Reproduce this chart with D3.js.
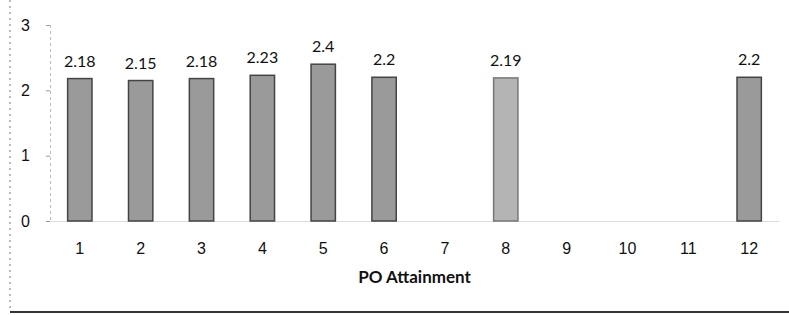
<!DOCTYPE html>
<html>
<head>
<meta charset="utf-8">
<script src="https://cdn.jsdelivr.net/npm/d3@7"></script>
<style>
  body { margin: 0; background: #fff; }
  svg { font-family: Lato, "Open Sans", sans-serif; }
</style>
</head>
<body>
<div id="vis"></div>
<script>
// frame and margins
const FRAME_WIDTH = 789;
const FRAME_HEIGHT = 315;
const MARGINS = {left: 50, right: 10, top: 25, bottom: 94};

// data
const CATEGORIES = ["1", "2", "3", "4", "5", "6", "7", "8", "9", "10", "11", "12"];
const VALUES = [2.18, 2.15, 2.18, 2.23, 2.4, 2.2, null, 2.19, null, null, null, 2.2];
const Y_TICKS = [0, 1, 2, 3];
const X_TITLE = "PO Attainment";

const DATA = CATEGORIES.map((c, i) => ({cat: c, value: VALUES[i]}));

const VIS_WIDTH = FRAME_WIDTH - MARGINS.left - MARGINS.right;
const VIS_HEIGHT = FRAME_HEIGHT - MARGINS.top - MARGINS.bottom;

const FRAME = d3.select("#vis")
  .append("svg")
    .attr("width", FRAME_WIDTH)
    .attr("height", FRAME_HEIGHT);

// scanned-page border bits
FRAME.append("line")
  .attr("x1", 10).attr("x2", 10).attr("y1", 0).attr("y2", 312)
  .attr("stroke", "#777").attr("stroke-dasharray", "2,4");
FRAME.append("line")
  .attr("x1", 10).attr("x2", 789).attr("y1", 312).attr("y2", 312)
  .attr("stroke", "#333").attr("stroke-width", 2);

// scales
const X = d3.scaleBand()
  .domain(CATEGORIES)
  .range([0, VIS_WIDTH])
  .paddingInner(0.6)
  .paddingOuter(0.29);

const Y = d3.scaleLinear()
  .domain([0, 3])
  .range([VIS_HEIGHT, 0]);

const G = FRAME.append("g")
  .attr("transform", "translate(" + MARGINS.left + "," + MARGINS.top + ")");

// y axis
const yAxis = G.append("g")
  .call(d3.axisLeft(Y).tickValues(Y_TICKS).tickFormat(d3.format("d"))
    .tickSize(4).tickPadding(16));
yAxis.select(".domain").attr("stroke", "#bbb").attr("stroke-dasharray", "3,3");
yAxis.selectAll(".tick line").attr("stroke", "#999");
yAxis.selectAll("text").attr("font-size", 16).attr("fill", "#111");

// x axis
const xAxis = G.append("g")
  .attr("transform", "translate(0," + VIS_HEIGHT + ")")
  .call(d3.axisBottom(X).tickSize(0).tickPadding(22));
xAxis.select(".domain").attr("stroke", "#ddd");
xAxis.selectAll("text").attr("font-size", 16).attr("fill", "#111");

// bars
const bars = DATA.filter(d => d.value !== null);

G.selectAll(".bar")
  .data(bars)
  .enter()
  .append("rect")
    .attr("class", "bar")
    .attr("x", d => X(d.cat))
    .attr("y", d => Y(d.value))
    .attr("width", X.bandwidth())
    .attr("height", d => VIS_HEIGHT - Y(d.value))
    .attr("fill", d => d.cat === "8" ? "#b4b4b4" : "#9a9a9a")
    .attr("stroke", d => d.cat === "8" ? "#777" : "#444")
    .attr("stroke-width", 1.5);

// value labels
G.selectAll(".label")
  .data(bars)
  .enter()
  .append("text")
    .attr("class", "label")
    .attr("x", d => X(d.cat) + X.bandwidth() / 2)
    .attr("y", d => Y(d.value) - 12)
    .attr("text-anchor", "middle")
    .attr("font-size", 16)
    .attr("fill", "#111")
    .text(d => d.value);

// axis title
G.append("text")
  .attr("x", VIS_WIDTH / 2)
  .attr("y", VIS_HEIGHT + 62)
  .attr("text-anchor", "middle")
  .attr("font-size", 17)
  .attr("font-weight", "bold")
  .attr("fill", "#111")
  .text(X_TITLE);
</script>
</body>
</html>
